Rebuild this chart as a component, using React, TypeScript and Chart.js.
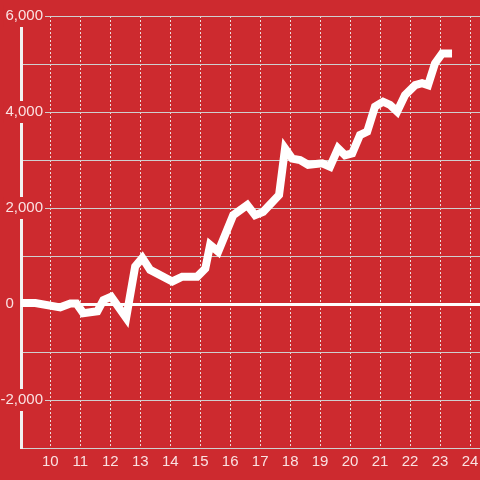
import React, { useEffect, useRef } from "react";
import { Chart, registerables } from "chart.js";

Chart.register(...registerables);

const hours = [
  9.0, 9.5, 10.33, 10.67, 10.87, 11.1, 11.57, 11.77, 12.03, 12.53, 12.83, 13.07,
  13.33, 14.07, 14.4, 14.9, 15.17, 15.33, 15.6, 16.1, 16.57, 16.83, 17.1, 17.63,
  17.83, 18.07, 18.33, 18.6, 19.07, 19.33, 19.6, 19.83, 20.07, 20.33, 20.57,
  20.83, 21.1, 21.33, 21.57, 21.83, 22.17, 22.4, 22.6, 22.83, 23.07, 23.4,
];
const values = [
  20, 20, -70, 10, 10, -190, -150, 80, 150, -290, 780, 960,
  710, 470, 570, 570, 740, 1230, 1090, 1850, 2060, 1850, 1920, 2270,
  3240, 3030, 3000, 2900, 2930, 2860, 3240, 3100, 3140, 3520, 3590,
  4110, 4215, 4150, 4010, 4350, 4560, 4600, 4560, 5010, 5220, 5220,
];
const xTicks = [10, 11, 12, 13, 14, 15, 16, 17, 18, 19, 20, 21, 22, 23, 24];
const yLabelled = [-2000, 2000, 4000, 6000];
const yZeroLabel = "0       ";

const BG = "#cd2a2f";
const TEXT = "rgba(255,245,245,0.9)";
const FONT = "'Liberation Sans', Arial, sans-serif";
const FONT_SIZE = 15;

function yLabel(v: number): string {
  if (v === 0) return yZeroLabel;
  if (yLabelled.includes(v)) return v.toLocaleString("en-US");
  return "";
}

export default function App() {
  const ref = useRef<HTMLCanvasElement | null>(null);
  useEffect(() => {
    document.body.style.margin = "0";
    const canvas = ref.current!;
    const mctx = document.createElement("canvas").getContext("2d")!;
    mctx.font = `${FONT_SIZE}px ${FONT}`;
    let widest = 0;
    for (let v = -3000; v <= 6000; v += 1000) {
      widest = Math.max(widest, mctx.measureText(yLabel(v)).width);
    }
    const axisRight = 21;
    const labelRight = 43;
    const yPad = labelRight - axisRight - widest;

    const bgPlugin = {
      id: "bg",
      beforeDraw(chart: any) {
        const c = chart.ctx;
        c.save();
        c.fillStyle = BG;
        c.fillRect(0, 0, chart.width, chart.height);
        c.restore();
      },
    };
    const chart = new Chart(canvas, {
      type: "line",
      data: {
        datasets: [
          {
            data: hours.map((h, i) => ({ x: h, y: values[i] })),
            borderColor: "#ffffff",
            borderWidth: 8,
            pointRadius: 0,
            tension: 0,
            fill: false,
          },
        ],
      },
      options: {
        responsive: false,
        animation: false,
        events: [],
        layout: { padding: { top: 16, left: 0, right: 0, bottom: 0 } },
        plugins: { legend: { display: false }, tooltip: { enabled: false } },
        scales: {
          x: {
            type: "linear",
            min: 9.022,
            max: 24.333,
            afterBuildTicks(scale: any) {
              scale.ticks = xTicks.map((v) => ({ value: v }));
            },
            afterFit(scale: any) {
              scale.height = 32;
              scale.paddingLeft = 0;
              scale.paddingRight = 0;
            },
            grid: {
              color: "rgba(240,240,240,0.9)",
              lineWidth: 1,
              drawTicks: false,
            },
            border: { color: "#d0d0d0", width: 1, dash: [2, 2] },
            ticks: {
              color: TEXT,
              font: { family: FONT, size: FONT_SIZE },
              padding: 5,
              maxRotation: 0,
              autoSkip: false,
              includeBounds: false,
            },
          },
          y: {
            type: "linear",
            min: -3000,
            max: 6000,
            afterBuildTicks(scale: any) {
              const t = [];
              for (let v = -3000; v <= 6000; v += 1000) t.push({ value: v });
              scale.ticks = t;
            },
            afterFit(scale: any) {
              scale.width = axisRight;
              scale.paddingTop = 0;
              scale.paddingBottom = 0;
            },
            grid: {
              color: (ctx: any) =>
                ctx.tick && ctx.tick.value === 0 ? "#ffffff" : "#cfcfcf",
              lineWidth: (ctx: any) => (ctx.tick && ctx.tick.value === 0 ? 3 : 1),
              drawTicks: false,
            },
            border: { color: "#f2f2f2", width: 3 },
            ticks: {
              color: TEXT,
              font: { family: FONT, size: FONT_SIZE },
              mirror: true,
              crossAlign: "far",
              padding: yPad,
              autoSkip: false,
              showLabelBackdrop: (ctx: any) =>
                !!ctx.tick && yLabelled.includes(ctx.tick.value),
              backdropColor: BG,
              backdropPadding: 2,
              callback: (v: any) => yLabel(Number(v)),
            },
          },
        },
      },
      plugins: [bgPlugin],
    } as any);
    return () => chart.destroy();
  }, []);
  return (
    <div style={{ position: "absolute", left: 0, top: 0, width: 480, height: 480 }}>
      <canvas ref={ref} width={480} height={480} style={{ display: "block" }} />
    </div>
  );
}
